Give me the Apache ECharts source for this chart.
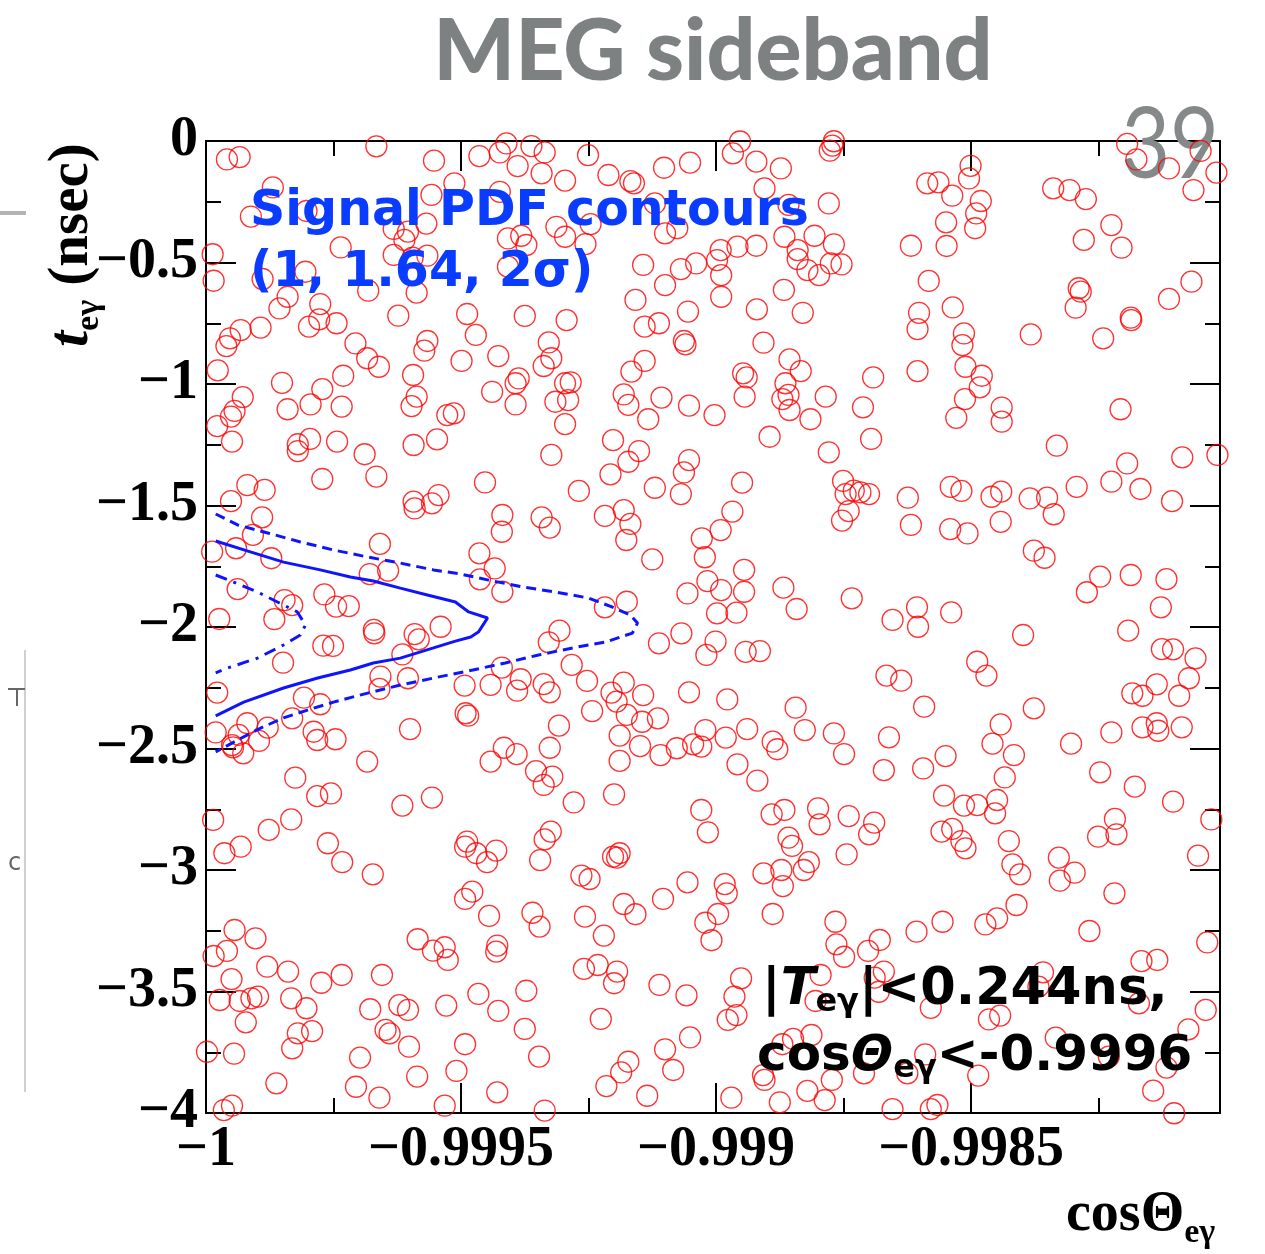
<!DOCTYPE html>
<html>
<head>
<meta charset="utf-8">
<script src="https://cdn.jsdelivr.net/npm/echarts@6/dist/echarts.min.js"></script>
<style>
  html, body { margin: 0; padding: 0; background: #fff; }
  #chart { width: 1265px; height: 1254px; }
</style>
</head>
<body>
<div id="chart"></div>
<script>
// Sideband events: [cosΘ_eγ, t_eγ (nsec)]
const eventsBand1 = [
[-0.999959,-0.076],[-0.999934,-0.066],[-0.999666,-0.022],[-0.999553,-0.081],[-0.999869,-0.191],[-0.999558,-0.222],[-0.999513,-0.174],[-0.999912,-0.311],[-0.999803,-0.288],[-0.999632,-0.362],[-0.999604,-0.373],[-0.999611,-0.407],[-0.999568,-0.340],[-0.999987,-0.466],[-0.999736,-0.438],[-0.999632,-0.469],[-0.999595,-0.480],[-0.999566,-0.472],[-0.999985,-0.575],[-0.999889,-0.568],[-0.999805,-0.538],[-0.999682,-0.616],[-0.999587,-0.624],[-0.999840,-0.641],[-0.999856,-0.689],[-0.999776,-0.671],[-0.999778,-0.734],[-0.999798,-0.764],[-0.999744,-0.750],[-0.999623,-0.719],[-0.999932,-0.778],[-0.999893,-0.768],[-0.999953,-0.812],[-0.999960,-0.844],[-0.999707,-0.833],[-0.999566,-0.823],[-0.999572,-0.863],[-0.999684,-0.894],[-0.999661,-0.929],[-0.999977,-0.944],[-0.999851,-0.995],[-0.999731,-0.966],[-0.999772,-1.021],[-0.999594,-0.963],[-0.999587,-1.052],[-0.999597,-1.091],[-0.999928,-1.054],[-0.999944,-1.111],[-0.999951,-1.134],[-0.999978,-1.173],[-0.999840,-1.104],[-0.999795,-1.084],[-0.999734,-1.093],[-0.999527,-1.128],[-0.999514,-1.121],[-0.999949,-1.237],[-0.999820,-1.248],[-0.999820,-1.276],[-0.999796,-1.226],[-0.999743,-1.237],[-0.999689,-1.289],[-0.999593,-1.251],[-0.999547,-1.228],
[-0.999464,-0.062],[-0.999424,-0.047],[-0.999411,-0.010],[-0.999362,-0.021],[-0.999336,-0.047],[-0.999389,-0.103],[-0.999342,-0.133],[-0.999296,-0.163],[-0.999251,-0.058],[-0.999211,-0.140],[-0.999168,-0.165],[-0.999161,-0.174],[-0.999102,-0.110],[-0.999051,-0.089],[-0.999424,-0.209],[-0.999120,-0.257],[-0.999313,-0.353],[-0.999296,-0.394],[-0.999246,-0.342],[-0.999256,-0.424],[-0.999100,-0.380],[-0.999076,-0.359],[-0.999408,-0.401],[-0.999382,-0.390],[-0.999372,-0.428],[-0.999408,-0.517],[-0.999143,-0.510],[-0.999100,-0.593],[-0.999069,-0.527],[-0.999039,-0.504],[-0.999488,-0.712],[-0.999471,-0.798],[-0.999375,-0.720],[-0.999293,-0.737],[-0.999158,-0.654],[-0.999140,-0.764],[-0.999112,-0.750],[-0.999055,-0.702],[-0.999063,-0.823],[-0.999060,-0.837],[-0.999499,-0.905],[-0.999427,-0.885],[-0.999328,-0.829],[-0.999323,-0.894],[-0.999338,-0.926],[-0.999140,-0.905],[-0.999166,-0.949],[-0.999387,-0.977],[-0.999393,-0.997],[-0.999439,-1.032],[-0.999393,-1.084],[-0.999296,-0.997],[-0.999285,-0.993],[-0.999315,-1.073],[-0.999290,-1.066],[-0.999181,-1.043],[-0.999172,-1.086],[-0.999107,-1.056],[-0.999053,-1.089],[-0.999133,-1.145],[-0.999296,-1.165],[-0.999202,-1.231],[-0.999323,-1.292],[-0.999151,-1.276],
[-0.998953,-0.002],[-0.998967,-0.051],[-0.998921,-0.085],[-0.998873,-0.113],[-0.998769,-0.001],[-0.998772,-0.019],[-0.998777,-0.040],[-0.998905,-0.195],[-0.998858,-0.263],[-0.998779,-0.257],[-0.998866,-0.394],[-0.998807,-0.390],[-0.998840,-0.449],[-0.998840,-0.486],[-0.998821,-0.531],[-0.998798,-0.552],[-0.998769,-0.425],[-0.998775,-0.504],[-0.998754,-0.508],[-0.998958,-0.435],[-0.998921,-0.431],[-0.998991,-0.449],[-0.998998,-0.490],[-0.998990,-0.552],[-0.998990,-0.641],[-0.998867,-0.613],[-0.998920,-0.693],[-0.998830,-0.707],[-0.998618,-0.431],[-0.998586,-0.174],[-0.998564,-0.170],[-0.998537,-0.225],[-0.998549,-0.335],[-0.998548,-0.432],[-0.998583,-0.576],[-0.998602,-0.707],[-0.998605,-0.774],[-0.998536,-0.685],[-0.998514,-0.792],[-0.998517,-0.840],[-0.998511,-0.929],[-0.998907,-0.830],[-0.998856,-0.899],[-0.998834,-0.947],[-0.998947,-0.956],[-0.998940,-0.973],[-0.998944,-1.052],[-0.998864,-0.997],[-0.998870,-1.062],[-0.998858,-1.045],[-0.998856,-1.107],[-0.998815,-1.145],[-0.998785,-1.052],[-0.998692,-0.973],[-0.998712,-1.096],[-0.998605,-0.947],[-0.998512,-1.062],[-0.998529,-1.139],[-0.999003,-1.128],[-0.998895,-1.217],[-0.998779,-1.281],[-0.998696,-1.226],
[-0.998501,-0.102],[-0.998504,-0.154],[-0.998481,-0.247],[-0.998490,-0.298],[-0.998492,-0.359],[-0.998339,-0.195],[-0.998307,-0.202],[-0.998275,-0.239],[-0.998225,-0.346],[-0.998279,-0.407],[-0.998205,-0.439],[-0.998194,-0.012],[-0.998176,-0.076],[-0.998112,-0.113],[-0.998050,-0.041],[-0.998019,-0.130],[-0.998064,-0.202],[-0.998289,-0.606],[-0.998285,-0.620],[-0.998295,-0.686],[-0.998068,-0.579],[-0.998112,-0.650],[-0.998187,-0.727],[-0.998186,-0.737],[-0.998383,-0.796],[-0.998241,-0.812],[-0.998479,-0.966],[-0.998483,-1.014],[-0.998440,-1.097],[-0.998440,-1.155],[-0.998207,-1.104],[-0.998332,-1.254],[-0.998086,-1.302],[-0.998017,-1.292]
];
const eventsBand2 = [
[-0.999772,-1.391],[-0.999666,-1.381],[-0.999919,-1.416],[-0.999885,-1.436],[-0.999951,-1.482],[-0.999890,-1.549],[-0.999908,-1.621],[-0.999941,-1.676],[-0.999988,-1.690],[-0.999872,-1.717],[-0.999659,-1.658],[-0.999593,-1.484],[-0.999591,-1.512],[-0.999557,-1.491],[-0.999544,-1.457],[-0.999679,-1.782],[-0.999643,-1.768],[-0.999938,-1.844],[-0.999768,-1.866],[-0.999745,-1.916],[-0.999720,-1.914],[-0.999846,-1.889],[-0.999831,-1.910],[-0.999866,-1.968],[-0.999974,-1.967],[-0.999671,-2.012],[-0.999670,-2.026],[-0.999770,-2.077],[-0.999751,-2.078],[-0.999849,-2.147],[-0.999591,-2.029],[-0.999583,-2.051],[-0.999540,-1.999],[-0.999615,-2.113],[-0.999658,-2.204],[-0.999660,-2.255],[-0.999604,-2.211],[-0.999978,-2.270],[-0.999808,-2.291],[-0.999776,-2.318],[-0.999831,-2.376],[-0.999981,-2.434],[-0.999919,-2.396],[-0.999879,-2.414],[-0.999936,-2.444],[-0.999896,-2.469],[-0.999949,-2.486],[-0.999947,-2.495],[-0.999927,-2.520],[-0.999789,-2.431],[-0.999782,-2.465],[-0.999746,-2.462],[-0.999600,-2.420],[-0.999684,-2.554],[-0.999825,-2.620],
[-0.999172,-1.320],[-0.999053,-1.313],[-0.999453,-1.405],[-0.999269,-1.440],[-0.999207,-1.372],[-0.999120,-1.427],[-0.999069,-1.453],[-0.999063,-1.364],[-0.999419,-1.539],[-0.999420,-1.608],[-0.999342,-1.549],[-0.999326,-1.591],[-0.999218,-1.543],[-0.999181,-1.519],[-0.999168,-1.576],[-0.999176,-1.642],[-0.999125,-1.722],[-0.999028,-1.635],[-0.999022,-1.713],[-0.999017,-1.811],[-0.999056,-1.862],[-0.999464,-1.697],[-0.999434,-1.759],[-0.999463,-1.804],[-0.999419,-1.855],[-0.999218,-1.919],[-0.999175,-1.896],[-0.999307,-2.015],[-0.999328,-2.063],[-0.999112,-2.067],[-0.999068,-2.026],[-0.999019,-2.115],[-0.999283,-2.156],[-0.999253,-2.222],[-0.999420,-2.167],[-0.999383,-2.215],[-0.999390,-2.262],[-0.999338,-2.235],[-0.999326,-2.269],[-0.999493,-2.241],[-0.999442,-2.238],[-0.999205,-2.270],[-0.999181,-2.229],[-0.999195,-2.307],[-0.999143,-2.280],[-0.999053,-2.269],[-0.999243,-2.346],[-0.999491,-2.355],[-0.999486,-2.365],[-0.999308,-2.406],[-0.999175,-2.362],[-0.999145,-2.390],[-0.999114,-2.376],[-0.999189,-2.447],[-0.999149,-2.490],[-0.999109,-2.527],[-0.999077,-2.499],[-0.999045,-2.483],[-0.999029,-2.492],[-0.999021,-2.424],[-0.999416,-2.497],[-0.999391,-2.523],[-0.999442,-2.554],[-0.999326,-2.497],[-0.999353,-2.593],[-0.999321,-2.616],[-0.999338,-2.650],[-0.999189,-2.551],
[-0.998949,-1.406],[-0.998968,-1.525],[-0.998991,-1.601],[-0.998751,-1.399],[-0.998746,-1.453],[-0.998730,-1.439],[-0.998717,-1.446],[-0.998700,-1.453],[-0.998740,-1.523],[-0.998753,-1.562],[-0.998624,-1.468],[-0.998618,-1.580],[-0.998540,-1.423],[-0.998519,-1.440],[-0.998541,-1.597],[-0.998507,-1.615],[-0.998945,-1.765],[-0.998945,-1.855],[-0.998990,-1.848],[-0.998998,-1.944],[-0.998960,-1.941],[-0.999001,-2.060],[-0.998868,-1.838],[-0.998842,-1.926],[-0.998734,-1.882],[-0.998654,-1.971],[-0.998606,-1.919],[-0.998604,-1.999],[-0.998539,-1.940],[-0.998942,-2.102],[-0.998914,-2.099],[-0.998666,-2.200],[-0.998637,-2.221],[-0.998592,-2.328],[-0.998978,-2.298],[-0.998844,-2.332],[-0.998826,-2.424],[-0.998939,-2.420],[-0.998981,-2.455],[-0.998889,-2.472],[-0.998880,-2.503],[-0.998769,-2.438],[-0.998749,-2.523],[-0.998661,-2.454],[-0.998958,-2.565],[-0.998919,-2.632],[-0.998671,-2.589],[-0.998594,-2.582],[-0.998550,-2.531],
[-0.998194,-1.327],[-0.998460,-1.464],[-0.998441,-1.443],[-0.998385,-1.471],[-0.998351,-1.468],[-0.998338,-1.536],[-0.998293,-1.423],[-0.998225,-1.402],[-0.998168,-1.432],[-0.998106,-1.482],[-0.998442,-1.567],[-0.998377,-1.686],[-0.998356,-1.715],[-0.998247,-1.793],[-0.998273,-1.857],[-0.998187,-1.786],[-0.998117,-1.803],[-0.998128,-1.919],[-0.998192,-2.015],[-0.998398,-2.033],[-0.998488,-2.143],[-0.998470,-2.200],[-0.998126,-2.091],[-0.998104,-2.092],[-0.998060,-2.129],[-0.998073,-2.211],[-0.998136,-2.236],[-0.998184,-2.273],[-0.998164,-2.283],[-0.998092,-2.283],[-0.998377,-2.335],[-0.998442,-2.401],[-0.998458,-2.480],[-0.998416,-2.527],[-0.998434,-2.619],[-0.998304,-2.480],[-0.998225,-2.434],[-0.998247,-2.598],[-0.998179,-2.657],[-0.998164,-2.413],[-0.998136,-2.396],[-0.998133,-2.427],[-0.998087,-2.413]
];
const eventsBand3 = [
[-0.999782,-2.696],[-0.999755,-2.685],[-0.999615,-2.735],[-0.999557,-2.702],[-0.999986,-2.794],[-0.999877,-2.835],[-0.999833,-2.792],[-0.999964,-2.931],[-0.999932,-2.904],[-0.999761,-2.890],[-0.999733,-2.968],[-0.999673,-3.018],[-0.999944,-3.247],[-0.999903,-3.281],[-0.999985,-3.354],[-0.999959,-3.333],[-0.999950,-3.449],[-0.999880,-3.398],[-0.999839,-3.418],[-0.999774,-3.464],[-0.999734,-3.432],[-0.999655,-3.432],[-0.999585,-3.285],[-0.999555,-3.332],[-0.999532,-3.318],[-0.999526,-3.370],[-0.999973,-3.535],[-0.999934,-3.539],[-0.999911,-3.528],[-0.999898,-3.521],[-0.999922,-3.627],[-0.999833,-3.528],[-0.999803,-3.569],[-0.999678,-3.573],[-0.999621,-3.556],[-0.999604,-3.576],[-0.999529,-3.558],[-0.999820,-3.672],[-0.999792,-3.663],[-0.999831,-3.734],[-0.999648,-3.658],[-0.999640,-3.672],[-0.999602,-3.727],[-0.999998,-3.748],[-0.999945,-3.756],[-0.999698,-3.772],[-0.999509,-3.827],[-0.999862,-3.878],[-0.999706,-3.892],[-0.999660,-3.937],[-0.999586,-3.850],[-0.999532,-3.970],[-0.999965,-3.988],[-0.999949,-3.970],
[-0.999279,-2.722],[-0.999200,-2.689],[-0.999029,-2.753],[-0.999016,-2.845],[-0.999488,-2.883],[-0.999492,-2.904],[-0.999470,-2.931],[-0.999449,-2.968],[-0.999431,-2.920],[-0.999324,-2.842],[-0.999336,-2.874],[-0.999345,-2.959],[-0.999202,-2.945],[-0.999194,-2.949],[-0.999189,-2.931],[-0.999264,-3.023],[-0.999248,-3.037],[-0.999478,-3.089],[-0.999492,-3.119],[-0.999445,-3.189],[-0.999360,-3.176],[-0.999346,-3.233],[-0.999257,-3.192],[-0.999181,-3.140],[-0.999158,-3.182],[-0.999104,-3.119],[-0.999056,-3.051],[-0.999220,-3.270],[-0.999021,-3.217],[-0.999009,-3.289],[-0.999429,-3.311],[-0.999431,-3.336],[-0.999259,-3.407],[-0.999232,-3.391],[-0.999194,-3.418],[-0.999200,-3.466],[-0.999111,-3.473],[-0.999058,-3.516],[-0.999466,-3.510],[-0.999427,-3.580],[-0.999372,-3.497],[-0.999226,-3.613],[-0.999375,-3.654],[-0.999492,-3.717],[-0.999347,-3.768],[-0.999051,-3.689],[-0.999100,-3.738],[-0.999084,-3.823],[-0.999172,-3.789],[-0.999186,-3.833],[-0.999215,-3.889],[-0.999135,-3.929],[-0.999429,-3.915],[-0.999336,-3.990],
[-0.998891,-2.771],[-0.998866,-2.753],[-0.998800,-2.746],[-0.998797,-2.812],[-0.998740,-2.778],[-0.998700,-2.853],[-0.998690,-2.805],[-0.998744,-2.936],[-0.998858,-2.867],[-0.998851,-2.901],[-0.998553,-2.694],[-0.998514,-2.735],[-0.998558,-2.842],[-0.998537,-2.831],[-0.998519,-2.881],[-0.998511,-2.911],[-0.998907,-3.014],[-0.998872,-3.000],[-0.998818,-2.968],[-0.998828,-3.000],[-0.998869,-3.066],[-0.998983,-3.058],[-0.998979,-3.096],[-0.998996,-3.181],[-0.998889,-3.181],[-0.998766,-3.213],[-0.998764,-3.306],[-0.998749,-3.357],[-0.998702,-3.333],[-0.998679,-3.288],[-0.998607,-3.254],[-0.998556,-3.213],[-0.998951,-3.446],[-0.998964,-3.521],[-0.998977,-3.617],[-0.998960,-3.597],[-0.998795,-3.432],[-0.998805,-3.539],[-0.998689,-3.443],[-0.998671,-3.418],[-0.998681,-3.501],[-0.998579,-3.567],[-0.998870,-3.717],[-0.998849,-3.695],[-0.998813,-3.679],[-0.998908,-3.844],[-0.998905,-3.864],[-0.998773,-3.864],[-0.998821,-3.909],[-0.998787,-3.947],[-0.998875,-3.956],[-0.998970,-3.937],[-0.998710,-3.837],[-0.998625,-3.837],[-0.998590,-3.759],[-0.998654,-3.984],[-0.998566,-3.967],[-0.998579,-3.984],
[-0.998488,-2.733],[-0.998449,-2.712],[-0.998453,-2.767],[-0.998104,-2.719],[-0.998029,-2.792],[-0.998426,-2.881],[-0.998419,-2.977],[-0.998404,-3.018],[-0.998251,-2.863],[-0.998218,-2.790],[-0.998215,-2.853],[-0.998328,-2.949],[-0.998326,-3.044],[-0.998297,-3.011],[-0.998219,-3.096],[-0.998055,-2.941],[-0.998411,-3.144],[-0.998449,-3.199],[-0.998472,-3.224],[-0.998268,-3.251],[-0.998037,-3.298],[-0.998166,-3.375],[-0.998135,-3.370],[-0.998359,-3.421],[-0.998368,-3.480],[-0.998171,-3.549],[-0.998465,-3.615],[-0.998443,-3.599],[-0.998040,-3.576],[-0.998074,-3.656],[-0.998334,-3.690],[-0.998230,-3.768],[-0.998117,-3.813],[-0.998486,-3.846],[-0.998143,-3.908],[-0.998102,-4.001]
];

// Signal PDF contours (1, 1.64 and 2 sigma)
const contour1sigma = [
[-0.999981,-1.786],[-0.999946,-1.815],[-0.999899,-1.856],[-0.999860,-1.897],[-0.999821,-1.938],[-0.999805,-1.992],[-0.999815,-2.033],[-0.999848,-2.074],[-0.999899,-2.128],[-0.999958,-2.169],[-0.999981,-2.189]
];
const contour164sigma = [
[-0.999981,-1.646],[-0.999913,-1.691],[-0.999848,-1.733],[-0.999776,-1.765],[-0.999717,-1.794],[-0.999672,-1.811],[-0.999619,-1.840],[-0.999566,-1.868],[-0.999511,-1.897],[-0.999485,-1.938],[-0.999448,-1.963],[-0.999466,-2.021],[-0.999481,-2.041],[-0.999511,-2.058],[-0.999554,-2.086],[-0.999619,-2.128],[-0.999672,-2.148],[-0.999717,-2.177],[-0.999781,-2.210],[-0.999848,-2.251],[-0.999926,-2.309],[-0.999981,-2.366]
];
const contour2sigma = [
[-0.999981,-1.535],[-0.999938,-1.580],[-0.999879,-1.613],[-0.999815,-1.650],[-0.999750,-1.683],[-0.999683,-1.712],[-0.999619,-1.737],[-0.999554,-1.765],[-0.999501,-1.782],[-0.999446,-1.807],[-0.999379,-1.835],[-0.999315,-1.856],[-0.999250,-1.881],[-0.999203,-1.918],[-0.999168,-1.951],[-0.999154,-1.984],[-0.999164,-2.025],[-0.999217,-2.062],[-0.999281,-2.086],[-0.999348,-2.115],[-0.999413,-2.148],[-0.999477,-2.177],[-0.999554,-2.210],[-0.999619,-2.239],[-0.999683,-2.272],[-0.999750,-2.309],[-0.999801,-2.342],[-0.999848,-2.374],[-0.999893,-2.416],[-0.999938,-2.465],[-0.999981,-2.514]
];

// Axis ranges and tick steps
const xRange = [-1, -0.998012];
const xStep = 0.0005;
const yRange = [-4, 0];
const yStep = 0.5;

const MINUS = '\u2212';
const SERIF = '"Liberation Serif", "Times New Roman", serif';
const SANS = '"DejaVu Sans", Verdana, sans-serif';
const TEXT_BLUE = '#0a3cff';
const LINE_BLUE = '#0f14ff';

function fmtTick(v) {
  const s = String(+v.toFixed(4));
  return s.replace('-', MINUS);
}

// Lay out a run of differently styled text pieces on one line
const measureCtx = document.createElement('canvas').getContext('2d');
function textRun(x, y, parts, color, z) {
  const out = [];
  let cx = x;
  parts.forEach(function (p) {
    const font = (p.italic ? 'italic ' : '') + (p.weight || 'bold') + ' ' + p.size + 'px ' + p.family;
    measureCtx.font = font;
    out.push({
      type: 'text', x: cx, y: y + (p.dy || 0), z: z,
      style: { text: p.text, font: font, fill: color, align: 'left', verticalAlign: 'middle' }
    });
    cx += measureCtx.measureText(p.text).width + (p.gap || 0);
  });
  return out;
}

const chart = echarts.init(document.getElementById('chart'), null, { renderer: 'canvas' });

const tickStyle = { color: '#000', width: 2 };
function frameAxis(pos, range, step, showLabel) {
  return {
    type: 'value', position: pos, min: range[0], max: range[1], interval: step,
    axisLine: { show: true, onZero: false, lineStyle: { color: '#000', width: 2 } },
    axisTick: { show: true, inside: true, length: 30, lineStyle: tickStyle },
    minorTick: { show: true, splitNumber: 2, length: 15, lineStyle: tickStyle },
    splitLine: { show: false },
    axisLabel: showLabel ? {
      show: true, formatter: fmtTick, color: '#000', fontFamily: SERIF, fontWeight: 'bold',
      fontSize: 56, showMaxLabel: pos === 'left', showMinLabel: true,
      margin: pos === 'bottom' ? 10 : 8
    } : { show: false }
  };
}

const xAxisBottom = frameAxis('bottom', xRange, xStep, true);
xAxisBottom.axisLabel.showMaxLabel = false;

const graphics = []
  // slide title and page number
  .concat([
    { type: 'text', x: 713, y: 52, z: 1, style: { text: 'MEG sideband', font: '900 86px Lato, "Open Sans", sans-serif', fill: '#7e8182', align: 'center', verticalAlign: 'middle' } },
    { type: 'text', x: 1219, y: 146, z: 1, scaleX: 0.86, style: { text: '39', font: 'normal 98px Lato, "Open Sans", sans-serif', fill: '#86898a', align: 'right', verticalAlign: 'middle' } }
  ])
  // contour legend text
  .concat(textRun(250, 212, [{ text: 'Signal PDF contours', size: 49, family: SANS }], TEXT_BLUE, 20))
  .concat(textRun(250, 273, [{ text: '(1, 1.64, 2\u03c3)', size: 49, family: SANS }], TEXT_BLUE, 20))
  // selection cuts
  .concat(textRun(762, 991, [
    { text: '|', size: 51, family: SANS },
    { text: 'T', size: 51, family: SANS, italic: true },
    { text: 'e\u03b3', size: 32, family: SANS, dy: 12 },
    { text: '|<0.244ns,', size: 51, family: SANS }
  ], '#000', 20))
  .concat(textRun(757, 1057, [
    { text: 'cos', size: 50, family: SANS },
    { text: '\u0398', size: 50, family: SANS, italic: true },
    { text: 'e\u03b3', size: 32, family: SANS, dy: 12 },
    { text: '<-0.9996', size: 50, family: SANS }
  ], '#000', 20))
  // x axis title
  .concat(textRun(1066, 1216, [
    { text: 'cos\u0398', size: 56, family: SERIF },
    { text: 'e\u03b3', size: 34, family: SERIF, dy: 17 }
  ], '#000', 20))
  // y axis title, rotated
  .concat([{
    type: 'group', x: 72, y: 347, rotation: Math.PI / 2, z: 20,
    children: textRun(0, 0, [
      { text: 't', size: 58, family: SERIF, italic: true },
      { text: 'e\u03b3', size: 34, family: SERIF, dy: 17 },
      { text: ' (nsec)', size: 57, family: SERIF }
    ], '#000', 20)
  }])
  // slide edge remnants
  .concat([
    { type: 'rect', shape: { x: 0, y: 211, width: 26, height: 4 }, z: 0, style: { fill: '#b4b4b4' } },
    { type: 'line', shape: { x1: 25, y1: 650, x2: 25, y2: 1092 }, z: 0, style: { stroke: '#d0d0d0', lineWidth: 2 } },
    { type: 'line', shape: { x1: 8, y1: 689, x2: 25, y2: 689 }, z: 0, style: { stroke: '#666', lineWidth: 2 } },
    { type: 'line', shape: { x1: 17, y1: 689, x2: 17, y2: 706 }, z: 0, style: { stroke: '#666', lineWidth: 2 } },
    { type: 'text', x: 8, y: 864, z: 0, style: { text: 'c', font: 'normal 24px "DejaVu Sans"', fill: '#666', verticalAlign: 'middle' } }
  ]);

const option = {
  animation: false,
  backgroundColor: '#fff',
  grid: { left: 206, top: 141, right: 45, bottom: 141, containLabel: false },
  xAxis: [xAxisBottom, frameAxis('top', xRange, xStep, false)],
  yAxis: [frameAxis('left', yRange, yStep, true), frameAxis('right', yRange, yStep, false)],
  series: [
    {
      type: 'scatter', name: 'sideband', xAxisIndex: 0, yAxisIndex: 0,
      data: eventsBand1.concat(eventsBand2, eventsBand3),
      symbol: 'circle', symbolSize: 21, clip: false, silent: true, z: 2,
      itemStyle: { color: 'rgba(0,0,0,0)', borderColor: '#ff0000', borderWidth: 1.3 }
    },
    {
      type: 'line', name: '1 sigma', data: contour1sigma, showSymbol: false, symbol: 'none', clip: false, silent: true, z: 3,
      lineStyle: { color: LINE_BLUE, width: 3, type: [12, 7, 3, 7] }
    },
    {
      type: 'line', name: '1.64 sigma', data: contour164sigma, showSymbol: false, symbol: 'none', clip: false, silent: true, z: 3,
      lineStyle: { color: LINE_BLUE, width: 3, type: 'solid' }
    },
    {
      type: 'line', name: '2 sigma', data: contour2sigma, showSymbol: false, symbol: 'none', clip: false, silent: true, z: 3,
      lineStyle: { color: LINE_BLUE, width: 3, type: [10, 6] }
    }
  ],
  graphic: { elements: graphics }
};

chart.setOption(option);
</script>
</body>
</html>
